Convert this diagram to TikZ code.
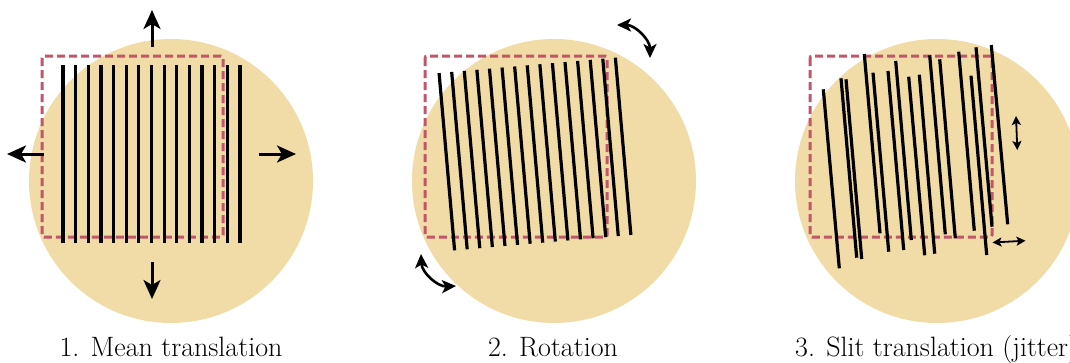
\documentclass[tikz,border=0pt]{standalone}
\usetikzlibrary{arrows.meta}
\definecolor{diskc}{RGB}{241,219,166}
\definecolor{roic}{RGB}{192,86,104}
\begin{document}
\begin{tikzpicture}[x=1pt,y=-1pt,
  disk/.style={fill=diskc, draw=none},
  roi/.style={draw=roic, line width=3pt, dash pattern=on 8pt off 4pt, rounded corners=2pt},
  slit/.style={line width=3.2pt, draw=black},
  bigarrow/.style={line width=3pt, -{Stealth[length=19pt,width=17pt,inset=5pt]}},
  rotarrow/.style={line width=2.6pt, {Stealth[length=14pt,width=13pt,inset=3.5pt]}-{Stealth[length=14pt,width=13pt,inset=3.5pt]}},
  jitarrow/.style={line width=1.8pt, {Stealth[length=9pt,width=9pt,inset=2pt]}-{Stealth[length=9pt,width=9pt,inset=2pt]}},
  lab/.style={font=\fontsize{28}{32}\selectfont, inner sep=0pt}]
\useasboundingbox (0,0) rectangle (1070,362);
\clip (0,0) rectangle (1070,362);

% ---------- Panel 1: mean translation ----------
\fill[disk] (171,181) circle (142pt);
\draw[roi] (42,56) rectangle (223,237);
\foreach \i in {0,...,14}
  \draw[slit] (63+12.64*\i,65) -- (63+12.64*\i,243);
\coordinate (u0) at (152,47);  \coordinate (u1) at (152,10);
\coordinate (d0) at (152,262); \coordinate (d1) at (152,299);
\coordinate (l0) at (44,154);  \coordinate (l1) at (7,154);
\coordinate (r0) at (259,154); \coordinate (r1) at (296,154);
\draw[bigarrow] (u0) -- (u1);
\draw[bigarrow] (d0) -- (d1);
\draw[bigarrow] (l0) -- (l1);
\draw[bigarrow] (r0) -- (r1);
\node[lab, anchor=base] (lab1) at (171,356) {1. Mean translation};

% ---------- Panel 2: rotation ----------
\fill[disk] (554,181) circle (142pt);
\draw[roi] (425,56) rectangle (607,237);
\begin{scope}[rotate around={5:(535,154)}]
  \foreach \i in {0,...,14}
    \draw[slit] (446.5+12.64*\i,65) -- (446.5+12.64*\i,243);
\end{scope}
\coordinate (ta) at (617,25);  \coordinate (tb) at (650,58);
\coordinate (ba) at (421,254); \coordinate (bb) at (456,286);
\draw[rotarrow] (ta) to[bend left=45] (tb);
\draw[rotarrow] (ba) to[bend right=45] (bb);
\node[lab, anchor=base] (lab2) at (553,356) {2. Rotation};

% ---------- Panel 3: slit translation (jitter) ----------
\fill[disk] (937,181) circle (142pt);
\draw[roi] (810,56) rectangle (992,237);
\foreach \xa/\ya/\xb/\yb in {
  823.3/89.3/839.3/268.3,
  841/78.3/856.7/257.7,
  846/79.3/861.7/259,
  864.3/54/880/233.3,
  873/72.7/888.7/251.7,
  888/71/903.7/250,
  895.7/61/911.3/240,
  908.7/76.7/924.7/255.3,
  919.3/74.7/934.7/253.7,
  929.7/55.3/945.3/234.3,
  939.7/59.3/955.3/238.3,
  958.7/51.7/974.3/230.7,
  971/75.7/986.7/255,
  976/47.3/992/226.7,
  991.3/45/1007.7/224.3}
  \draw[slit] (\xa,\ya) -- (\xb,\yb);
\coordinate (va) at (1016,116); \coordinate (vb) at (1017.3,150);
\coordinate (ha) at (992.5,242.5); \coordinate (hb) at (1025.5,240.7);
\draw[jitarrow] (va) -- (vb);
\draw[jitarrow] (ha) -- (hb);
\node[lab, anchor=base west] (lab3) at (795,356) {3. Slit translation (jitter)};
\end{tikzpicture}
\end{document}
